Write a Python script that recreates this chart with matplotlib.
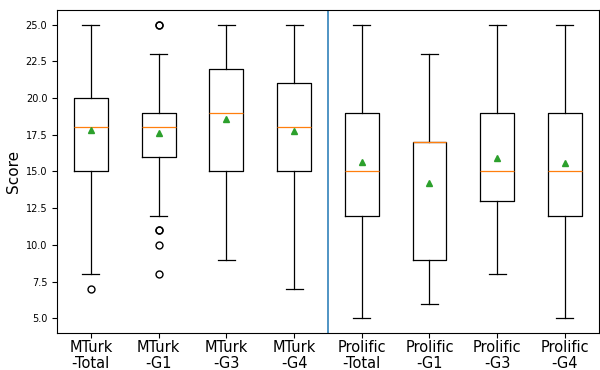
import matplotlib
matplotlib.use("Agg")
import matplotlib.pyplot as plt

labels = ["MTurk\n-Total", "MTurk\n-G1", "MTurk\n-G3", "MTurk\n-G4",
          "Prolific\n-Total", "Prolific\n-G1", "Prolific\n-G3", "Prolific\n-G4"]
whislo = [8, 12, 9, 7, 5, 6, 8, 5]
q1 = [15, 16, 15, 15, 12, 9, 13, 12]
med = [18, 18, 19, 18, 15, 17, 15, 15]
mean = [17.8, 17.6, 18.55, 17.75, 15.65, 14.2, 15.9, 15.55]
q3 = [20, 19, 22, 21, 19, 17, 19, 19]
whishi = [25, 23, 25, 25, 25, 23, 25, 25]
fliers = [[7], [25, 25, 11, 11, 10, 8], [], [], [], [], [], []]

stats = []
for i in range(len(labels)):
    stats.append(dict(label=labels[i], whislo=whislo[i], q1=q1[i], med=med[i],
                      mean=mean[i], q3=q3[i], whishi=whishi[i], fliers=fliers[i]))

lw = 0.9
fig = plt.figure(figsize=(6, 3.7), dpi=100)
ax = fig.add_axes([0.095, 0.1, 0.903, 0.873])
ax.bxp(stats, showmeans=True,
       boxprops=dict(linewidth=lw), whiskerprops=dict(linewidth=lw),
       capprops=dict(linewidth=lw), medianprops=dict(linewidth=lw, color="C1"),
       flierprops=dict(markersize=5, markeredgewidth=1.0),
       meanprops=dict(marker="^", markersize=5, markerfacecolor="C2", markeredgecolor="C2"))
ax.axvline(4.5, color="C0", linewidth=1.1)
ax.set_ylim(4, 26)
ax.set_xlim(0.5, 8.5)
ax.set_ylabel("Score", fontsize=11, labelpad=3)
for sp in ax.spines.values():
    sp.set_linewidth(0.8)
ax.tick_params(axis="x", labelsize=10.5, pad=1.5, width=0.8)
ax.tick_params(axis="y", labelsize=7, width=0.8)
for t in ax.get_xticklabels():
    t.set_linespacing(1.05)

fig.savefig("out.png", dpi=100)
